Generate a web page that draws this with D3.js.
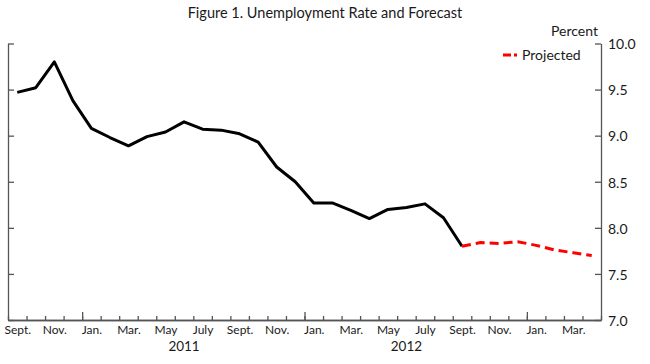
<!DOCTYPE html>
<html>
<head>
<meta charset="utf-8">
<script src="https://cdn.jsdelivr.net/npm/d3@7"></script>
<style>
  body { margin: 0; background: #fff; }
  svg text { font-family: Lato, "Open Sans", sans-serif; fill: #1a1a1a; }
</style>
</head>
<body>
<svg id="chart" width="650" height="364"></svg>
<script>
// months counted from Sept. 2010 (0) to May 2013 (32)
var tickLabels = ['Sept.', 'Nov.', 'Jan.', 'Mar.', 'May', 'July', 'Sept.', 'Nov.',
  'Jan.', 'Mar.', 'May', 'July', 'Sept.', 'Nov.', 'Jan.', 'Mar.']
var years = ['2011', '2012']
var yTicks = [7.0, 7.5, 8.0, 8.5, 9.0, 9.5, 10.0]

// Sept. 2010 - Sept. 2012
var actual = [9.47, 9.52, 9.80, 9.38, 9.08, 8.98, 8.89, 8.99, 9.04, 9.15, 9.07, 9.06,
  9.02, 8.93, 8.66, 8.50, 8.27, 8.27, 8.19, 8.10, 8.20, 8.22, 8.26, 8.11, 7.80]
// Sept. 2012 - Apr. 2013
var projected = [7.80, 7.84, 7.83, 7.85, 7.81, 7.76, 7.73, 7.70]
var projStart = 24

var svg = d3.select('#chart')

var x = d3.scaleLinear().domain([0, 32]).range([8, 601])
var y = d3.scaleLinear().domain([7, 10]).range([320, 43.5])

var axisColor = '#555'

// title
svg.append('text')
  .attr('x', 325)
  .attr('y', 18)
  .attr('text-anchor', 'middle')
  .style('font-size', '14.5px')
  .text('Figure 1. Unemployment Rate and Forecast')

// left axis (ticks only)
var left = svg.append('g')
  .attr('transform', 'translate(' + x(0) + ',0)')
  .call(d3.axisRight(y).tickValues(yTicks).tickSize(6).tickSizeOuter(0).tickFormat(''))

// right axis
var right = svg.append('g')
  .attr('transform', 'translate(' + x(32) + ',0)')
  .call(d3.axisRight(y).tickValues(yTicks).tickSize(-6).tickSizeOuter(0)
    .tickPadding(7).tickFormat(d3.format('.1f')))
right.selectAll('text').style('font-size', '14px').attr('dy', '0.38em')

// bottom: minor ticks, major (Jan.) ticks, labels
var minor = svg.append('g')
  .attr('transform', 'translate(0,' + y(7) + ')')
  .call(d3.axisBottom(x).tickValues(d3.range(0, 33)).tickSize(-4).tickSizeOuter(0).tickFormat(''))
var major = svg.append('g')
  .attr('transform', 'translate(0,' + y(7) + ')')
  .call(d3.axisBottom(x).tickValues([4, 16, 28]).tickSize(-8).tickSizeOuter(0).tickFormat(''))
var labels = svg.append('g')
  .attr('transform', 'translate(0,' + y(7) + ')')
  .call(d3.axisBottom(x).tickValues(tickLabels.map((d, i) => i * 2 + 0.5))
    .tickSize(0).tickPadding(5).tickFormat((d, i) => tickLabels[i]))
labels.select('.domain').remove()
labels.selectAll('text').style('font-size', '12px')

svg.selectAll('.domain, .tick line')
  .attr('stroke', axisColor)
  .attr('stroke-width', 1.3)

svg.selectAll('.year')
  .data(years)
  .enter()
  .append('text')
  .attr('class', 'year')
  .attr('x', (d, i) => x(9.5 + i * 12))
  .attr('y', 351)
  .attr('text-anchor', 'middle')
  .style('font-size', '13.5px')
  .text(d => d)

// "Percent" unit label
svg.append('text')
  .attr('x', 598)
  .attr('y', 36)
  .attr('text-anchor', 'end')
  .style('font-size', '14px')
  .text('Percent')

// lines
var line = d3.line()
  .x(d => x(d.m + 0.5))
  .y(d => y(d.v))

svg.append('path')
  .datum(actual.map((v, i) => ({ m: i, v: v })))
  .attr('d', line)
  .attr('fill', 'none')
  .attr('stroke', '#000')
  .attr('stroke-width', 3)
  .attr('stroke-linejoin', 'round')

svg.append('path')
  .datum(projected.map((v, i) => ({ m: projStart + i, v: v })))
  .attr('d', line)
  .attr('fill', 'none')
  .attr('stroke', '#f00')
  .attr('stroke-width', 3)
  .attr('stroke-dasharray', '9,5')

// legend
svg.append('line')
  .attr('x1', 503).attr('x2', 517)
  .attr('y1', 55).attr('y2', 55)
  .attr('stroke', '#f00')
  .attr('stroke-width', 3)
  .attr('stroke-dasharray', '8,3,3,20')

svg.append('text')
  .attr('x', 522)
  .attr('y', 60)
  .style('font-size', '14px')
  .text('Projected')
</script>
</body>
</html>
